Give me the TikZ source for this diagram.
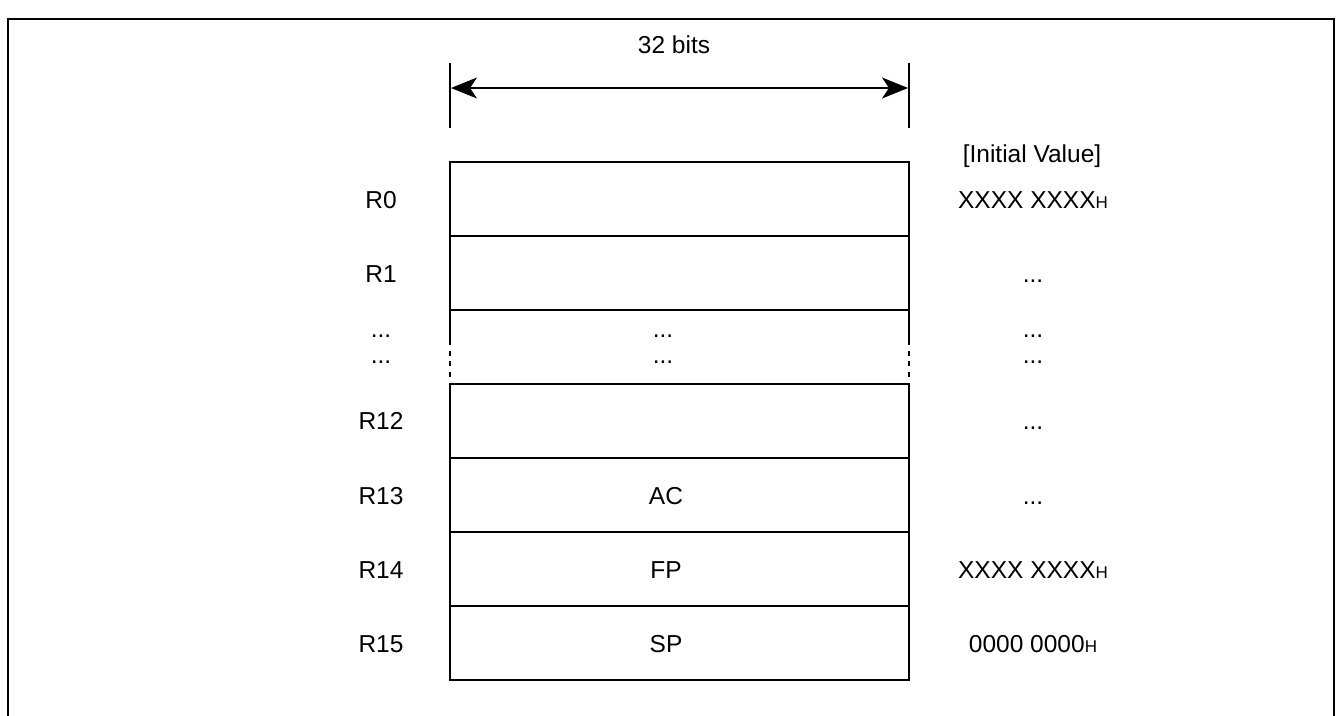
\documentclass[tikz,border=0pt]{standalone}
\usepackage{fontspec}
\setmainfont{Liberation Sans}
\usetikzlibrary{arrows.meta}
\begin{document}
\begin{tikzpicture}[x=1pt,y=-1pt,
  lbl/.style={anchor=base, inner sep=0pt, font=\fontsize{24.5}{28}\selectfont},
  reg/.style={draw, line width=2pt, minimum width=459pt, minimum height=74pt, inner sep=0pt, outer sep=0pt, anchor=north west},
  thick line/.style={line width=2pt},
  dimarrow/.style={line width=2pt, {Stealth[length=26pt,width=21pt,inset=7pt]}-{Stealth[length=26pt,width=21pt,inset=7pt]}},
  dashside/.style={line width=2pt, dash pattern=on 5pt off 5.5pt}
]
\newcommand{\hsub}{{\fontsize{17}{17}\selectfont H}}
\useasboundingbox (0,0) rectangle (1336,715);
% outer frame (open at the bottom)
\coordinate (fbl) at (8,740);
\coordinate (ftl) at (8,19);
\coordinate (ftr) at (1334,19);
\coordinate (fbr) at (1334,740);
\draw[thick line] (fbl) -- (ftl) -- (ftr) -- (fbr);

% width dimension
\coordinate (tlt) at (450,63);
\coordinate (tlb) at (450,128);
\coordinate (trt) at (909,63);
\coordinate (trb) at (909,128);
\coordinate (al) at (451,88);
\coordinate (ar) at (908,88);
\draw[thick line] (tlt) -- (tlb);
\draw[thick line] (trt) -- (trb);
\draw[dimarrow] (al) -- (ar);
\node[lbl] (bits) at (674,53) {32 bits};

% register rows
\node[reg] (r0) at (450,162) {};
\node[reg] (r1) at (450,236) {};
\node[reg] (r12) at (450,384) {};
\node[reg] (r13) at (450,458) {};
\node[reg] (r14) at (450,532) {};
\node[reg] (r15) at (450,606) {};

% elided region sides
\coordinate (dl1) at ([yshift=-30pt]r1.south west);
\coordinate (dl2) at ([yshift=-67pt]r1.south west);
\coordinate (dr1) at ([yshift=-30pt]r1.south east);
\coordinate (dr2) at ([yshift=-67pt]r1.south east);
\draw[thick line] (r1.south west) -- (dl1);
\draw[dashside] (dl1) -- (dl2);
\draw[thick line] (r1.south east) -- (dr1);
\draw[dashside] (dr1) -- (dr2);

% left labels
\node[lbl] (l0) at (381,208) {R0};
\node[lbl] (l1) at (381,282) {R1};
\node[lbl] (ld1) at (381,337.5) {...};
\node[lbl] (ld2) at (381,363.5) {...};
\node[lbl] (l12) at (381,429) {R12};
\node[lbl] (l13) at (381,504) {R13};
\node[lbl] (l14) at (381,578) {R14};
\node[lbl] (l15) at (381,652) {R15};

% inside labels
\node[lbl] (cd1) at (663,337.5) {...};
\node[lbl] (cd2) at (663,363.5) {...};
\node[lbl] (c13) at (666,504) {AC};
\node[lbl] (c14) at (666,578) {FP};
\node[lbl] (c15) at (666,652) {SP};

% initial values
\node[lbl] (ivh) at (1032,162) {[Initial Value]};
\node[lbl] (v0) at (1033,208) {XXXX XXXX\hsub};
\node[lbl] (v1) at (1033,282) {...};
\node[lbl] (vd1) at (1033,337.5) {...};
\node[lbl] (vd2) at (1033,363.5) {...};
\node[lbl] (v12) at (1033,429) {...};
\node[lbl] (v13) at (1033,504) {...};
\node[lbl] (v14) at (1033,578) {XXXX XXXX\hsub};
\node[lbl] (v15) at (1033,652) {0000 0000\hsub};
\end{tikzpicture}
\end{document}
